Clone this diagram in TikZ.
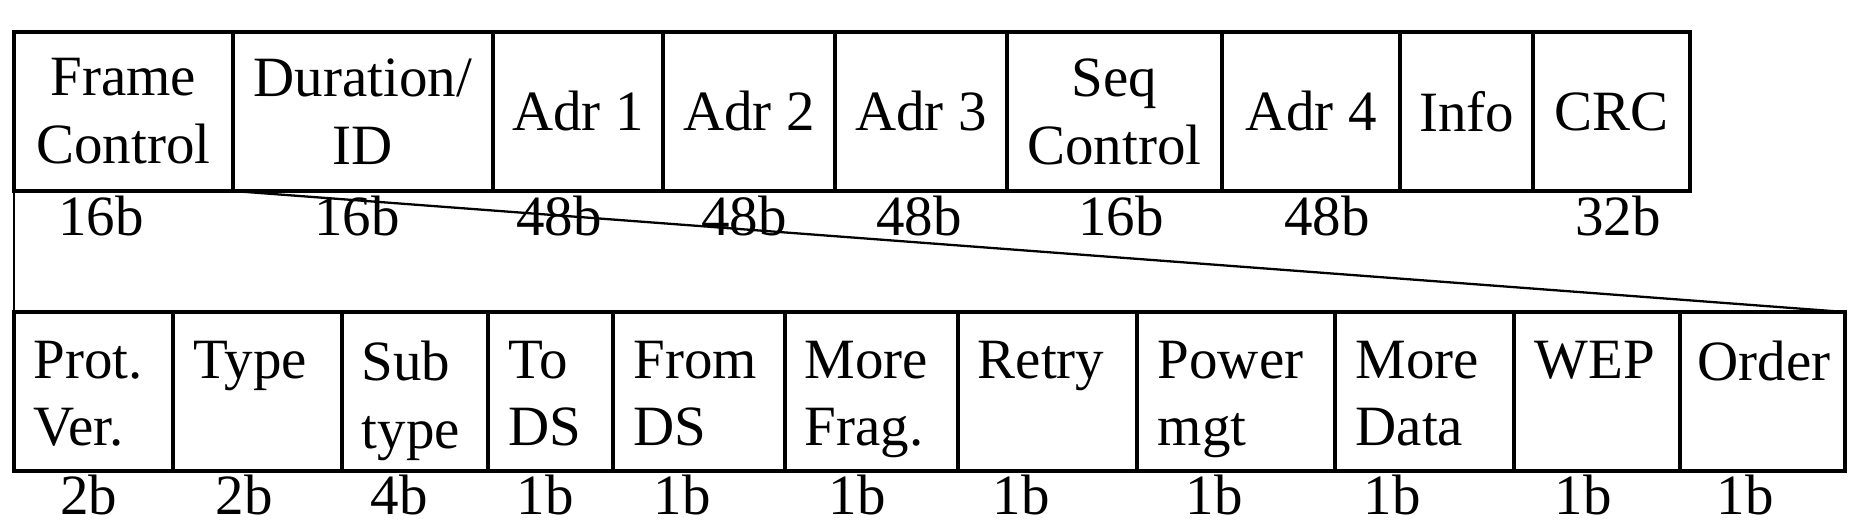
\documentclass[tikz,border=0pt]{standalone}
\usepackage{fontspec}
\setmainfont{Liberation Serif}
\begin{document}
\begin{tikzpicture}[x=0.01cm,y=-0.01cm,
  schrift/.style={font=\fontsize{16.2}{19.3}\selectfont},
  feld/.style={schrift,draw,line width=1.2pt,inner sep=0pt,outer sep=0pt,align=center},
  eintrag/.style={schrift,anchor=north west,inner sep=0pt,align=left},
  bits/.style={schrift,anchor=base,inner sep=0pt}]
% Bildgröße in Pixeln
\useasboundingbox (0,0) rectangle (1866,527);

% Zeilenhöhen
\def\Ao{32}  % obere Zeile, oben
\def\Au{191} % obere Zeile, unten
\def\Bo{312} % untere Zeile, oben
\def\Bu{471} % untere Zeile, unten

% Obere Zeile: MAC-Rahmen
\foreach \n/\a/\b/\t in {fc/14/233/{Frame\\Control}, dur/233/493/{Duration/\\ID},
  adr1/493/663/{Adr 1}, adr2/663/835/{Adr 2}, adr3/835/1007/{Adr 3},
  seq/1007/1222/{Seq\\Control}, adr4/1222/1400/{Adr 4}, info/1400/1533/{Info},
  crc/1533/1690/{CRC}}{
  \node[feld,minimum width={(\b-\a)*0.01cm},minimum height={(\Au-\Ao)*0.01cm}]
    (\n) at ({(\a+\b)/2},{(\Ao+\Au)/2}) {\t};
}

% Bitlängen oben (Info ohne Angabe)
\foreach \n/\x/\t in {fc/101/16b, dur/357/16b, adr1/559/48b, adr2/744/48b,
  adr3/919/48b, seq/1121/16b, adr4/1327/48b, crc/1618/32b}
  \node[bits] (b\n) at (\x,235) {\t};

% Untere Zeile: Frame Control aufgeschlüsselt
\foreach \n/\a/\b/\p/\t in {pv/14/173/19/{Prot.\\Ver.}, typ/173/342/20/{Type},
  sub/342/488/19/{Sub\\type}, tods/488/613/20/{To\\DS}, fromds/613/785/20/{From\\DS},
  mfrag/785/958/19/{More\\Frag.}, retry/958/1137/19/{Retry}, pwr/1137/1335/20/{Power\\mgt},
  mdata/1335/1514/20/{More\\Data}, wep/1514/1680/20/{WEP}, ord/1680/1845/17/{Order}}{
  \node[feld,minimum width={(\b-\a)*0.01cm},minimum height={(\Bu-\Bo)*0.01cm}]
    (\n) at ({(\a+\b)/2},{(\Bo+\Bu)/2}) {};
  \node[eintrag] (t\n) at (\a+\p,340) {\t};
}

% Bitlängen unten
\foreach \n/\x/\t in {pv/89/2b, typ/244/2b, sub/399/4b, tods/545/1b, fromds/682/1b,
  mfrag/857/1b, retry/1021/1b, pwr/1214/1b, mdata/1392/1b, wep/1583/1b, ord/1745/1b}
  \node[bits] (b\n) at (\x,514) {\t};

% Aufweitung von Frame Control
\draw[line width=0.65pt] (fc.south west) -- (pv.north west);
\draw[line width=0.65pt] (fc.south east) -- (ord.north east);

\end{tikzpicture}
\end{document}
